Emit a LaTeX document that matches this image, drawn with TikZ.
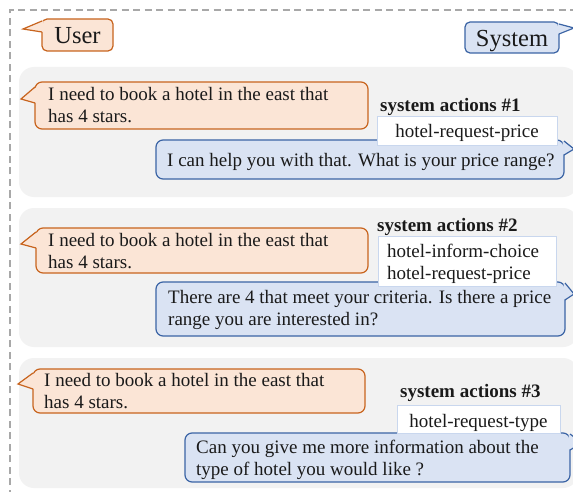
\documentclass[tikz,border=0pt]{standalone}
\usepackage{fontspec}
\setmainfont{Liberation Serif}
\definecolor{ufill}{HTML}{FBE5D6}
\definecolor{uline}{HTML}{C8641E}
\definecolor{sfill}{HTML}{DAE3F3}
\definecolor{sline}{HTML}{3B64A5}
\definecolor{panelc}{HTML}{F2F2F2}
\definecolor{boxline}{HTML}{C9D7EE}
\definecolor{framec}{HTML}{A8A8A8}
\definecolor{txtc}{HTML}{1A1A1A}
\tikzset{
  txt/.style={font=\fontsize{19}{23}\selectfont, text=txtc, inner sep=0pt, anchor=base west},
  ctxt/.style={txt, anchor=base},
  btxt/.style={txt, font=\fontsize{19}{23}\selectfont\bfseries},
  tagtxt/.style={font=\fontsize{24.5}{29}\selectfont, text=txtc, inner sep=0pt, anchor=base},
  panel/.style={fill=panelc, rounded corners=15pt},
  ubox/.style={fill=ufill, draw=uline, line width=1.2pt},
  sbox/.style={fill=sfill, draw=sline, line width=1.2pt},
  actbox/.style={fill=white, draw=boxline, line width=1pt},
}
% left-pointing bubble: x1,y1,x2,y2, pointer top y, tip x, tip y, pointer bottom y, radius
\newcommand\leftbub[9]{%
  \path[ubox, rounded corners=#9] (#1,#2) rectangle (#3,#4);
  \fill[ufill] (#1+1.5,#5) -- (#6,#7) -- (#1+1.5,#8) -- cycle;
  \draw[uline, line width=1.2pt, line join=miter] (#1,#5) -- (#6,#7) -- (#1,#8);
}
\newcommand\rightbub[9]{%
  \path[sbox, rounded corners=#9] (#1,#2) rectangle (#3,#4);
  \fill[sfill] (#3-1.5,#5) -- (#6,#7) -- (#3-1.5,#8) -- cycle;
  \draw[sline, line width=1.2pt, line join=miter] (#3,#5) -- (#6,#7) -- (#3,#8);
}
\begin{document}
\begin{tikzpicture}[x=1pt,y=-1pt]
\clip (0,0) rectangle (573,492);
\fill[white] (0,0) rectangle (573,492);
% dashed frame
\draw[framec, line width=1.3pt, dash pattern=on 7pt off 4.5pt] (10,600) -- (10,10) -- (700,10);

% tags
\leftbub{42}{19}{113}{51}{21}{23}{29}{32}{5}
\node[tagtxt] (user) at (77.5,44) {User};
\rightbub{465}{22}{559}{53}{24}{574}{28}{34}{5}
\node[tagtxt] (system) at (512,47) {System};

% ---------- panel 1
\path[panel] (19,67) rectangle (578,197);
\leftbub{35}{82}{368}{129}{87}{21}{99}{103}{7}
\node[txt] (u1a) at (48,101) {I need to book a hotel in the east that};
\node[txt] (u1b) at (48,123) {has 4 stars.};
\rightbub{156}{140}{564}{179}{141}{574}{149}{155}{7}
\node[txt] (s1) at (167,167) {I can help you with that. What is your price range?};
\node[btxt] (l1) at (380,112) {system actions \#1};
\path[actbox] (377,117) rectangle (557,146);
\node[ctxt] (a1) at (467,138) {hotel-request-price};

% ---------- panel 2
\path[panel] (19,208) rectangle (578,347);
\leftbub{36}{228}{368}{273}{232}{21}{244}{248}{7}
\node[txt] (u2a) at (48,246) {I need to book a hotel in the east that};
\node[txt] (u2b) at (48,268) {has 4 stars.};
\rightbub{156}{282}{565}{336}{283}{574}{294}{300}{7}
\node[txt] (s2a) at (168,303) {There are 4 that meet your criteria. Is there a price};
\node[txt] (s2b) at (168,325) {range you are interested in?};
\node[btxt] (l2) at (377,231) {system actions \#2};
\path[actbox] (378,236) rectangle (556,286);
\node[txt] (a2a) at (387,257) {hotel-inform-choice};
\node[txt] (a2b) at (387,279) {hotel-request-price};

% ---------- panel 3
\path[panel] (19,358) rectangle (578,488);
\leftbub{33}{369}{365}{413}{373}{18}{384}{389}{7}
\node[txt] (u3a) at (44,386) {I need to book a hotel in the east that};
\node[txt] (u3b) at (44,408) {has 4 stars.};
\rightbub{185}{433}{570}{482}{434}{582}{443}{450}{7}
\node[txt] (s3a) at (196,453) {Can you give me more information about the};
\node[txt] (s3b) at (196,475) {type of hotel you would like ?};
\node[btxt] (l3) at (400,397) {system actions \#3};
\path[actbox] (397,405) rectangle (560,433);
\node[ctxt] (a3) at (478.5,427) {hotel-request-type};
\end{tikzpicture}
\end{document}
